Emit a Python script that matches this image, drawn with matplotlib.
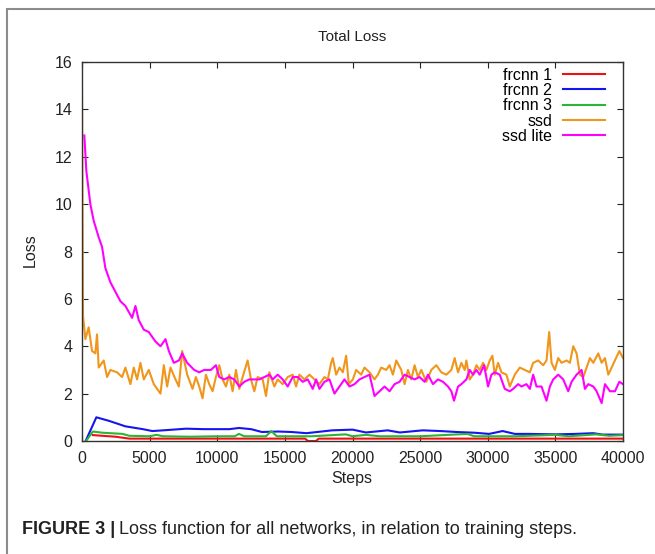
import matplotlib
matplotlib.use("Agg")
import matplotlib.pyplot as plt
from matplotlib.patches import Rectangle
from matplotlib import font_manager

# --- data ------------------------------------------------------------------
frcnn1_steps = [800, 1500, 2500, 3500, 10000, 16500, 16700, 17300, 17500, 40000]
frcnn1_loss = [0.25, 0.22, 0.18, 0.10, 0.10, 0.10, 0.0, 0.0, 0.10, 0.10]

frcnn2_steps = [270, 1060, 2000, 3200, 4500, 5200, 6000, 7700, 9000, 10900, 11600,
                12500, 13300, 14500, 15500, 16600, 18500, 20000, 21000, 22600, 23500,
                25200, 26500, 27700, 29000, 30100, 31100, 32000, 33000, 35000, 36500,
                37800, 38500, 40000]
frcnn2_loss = [0.0, 1.0, 0.85, 0.62, 0.5, 0.42, 0.45, 0.52, 0.5, 0.5, 0.55,
               0.5, 0.38, 0.4, 0.38, 0.33, 0.45, 0.48, 0.36, 0.45, 0.36,
               0.45, 0.42, 0.38, 0.35, 0.3, 0.42, 0.3, 0.3, 0.28, 0.3,
               0.33, 0.27, 0.27]

frcnn3_steps = [300, 800, 1500, 3000, 3500, 5000, 5500, 6000, 8000, 10000, 11300,
                11600, 12000, 13600, 14000, 14400, 17000, 19500, 20000, 21000, 22000,
                25000, 28500, 29000, 32000, 35000, 36000, 38000, 39000, 40000]
frcnn3_loss = [0.0, 0.4, 0.35, 0.3, 0.22, 0.2, 0.26, 0.2, 0.18, 0.2, 0.2,
               0.3, 0.2, 0.2, 0.42, 0.2, 0.2, 0.28, 0.2, 0.26, 0.2,
               0.2, 0.3, 0.2, 0.2, 0.26, 0.2, 0.28, 0.22, 0.25]

ssd_steps = [0, 74, 247, 494, 741, 988, 1111, 1235, 1605, 1852, 2099, 2593, 2963,
             3210, 3580, 3827, 4074, 4321, 4568, 4938, 5309, 5802, 6049, 6296, 6543,
             6914, 7160, 7407, 7778, 8173, 8420, 8667, 8914, 9160, 9407, 9654, 9901,
             10148, 10395, 10642, 10889, 11136, 11382, 11629, 11876, 12247, 12493,
             12740, 12987, 13358, 13605, 13852, 14222, 14469, 14840, 15210, 15580,
             15827, 16074, 16444, 16815, 17185, 17555, 17926, 18173, 18420, 18543,
             18790, 19037, 19284, 19531, 19728, 20024, 20271, 20641, 20888, 21259,
             21629, 21876, 22123, 22493, 22740, 22987, 23234, 23605, 23852, 24099,
             24345, 24592, 24839, 25086, 25457, 25827, 26197, 26568, 26938, 27308,
             27555, 27802, 28049, 28296, 28419, 28666, 28913, 29160, 29407, 29654,
             29901, 30148, 30345, 30518, 30765, 31012, 31383, 31630, 32000, 32370,
             32741, 33111, 33358, 33728, 34099, 34345, 34543, 34716, 34963, 35210,
             35457, 35827, 36074, 36321, 36568, 36815, 37062, 37308, 37555, 37802,
             38173, 38420, 38667, 38913, 39160, 39407, 39728, 40000]
ssd_loss = [14.7, 5.3, 4.3, 4.8, 3.8, 3.7, 4.5, 3.1, 3.4, 2.7, 3.0, 2.9, 2.7,
            3.1, 2.4, 3.1, 2.6, 3.3, 2.6, 3.0, 2.4, 2.0, 3.2, 2.3, 3.1,
            2.6, 2.3, 3.8, 2.8, 2.2, 2.7, 2.3, 1.8, 2.8, 2.4, 2.1, 2.7,
            3.2, 2.6, 2.3, 2.8, 2.1, 3.0, 2.2, 2.7, 3.4, 2.6,
            2.1, 2.7, 2.6, 1.9, 2.9, 2.3, 2.6, 2.4, 2.7, 2.8,
            2.3, 2.8, 2.6, 2.8, 2.6, 2.4, 2.7, 2.6, 3.3, 3.5,
            2.8, 3.1, 2.9, 3.6, 2.4, 2.6, 3.0, 2.8, 3.1, 2.9,
            2.6, 2.8, 3.1, 3.0, 3.2, 2.8, 3.4, 3.0, 2.4, 3.0,
            2.6, 3.2, 2.7, 3.0, 2.5, 3.0, 3.2, 2.9, 2.8, 3.0,
            3.5, 2.9, 3.3, 3.0, 3.4, 2.6, 2.8, 3.2, 3.0, 3.3,
            3.0, 3.4, 3.6, 2.8, 3.3, 2.9, 2.8, 2.3, 2.8, 3.1,
            3.0, 2.9, 3.3, 3.4, 3.2, 3.4, 4.6, 3.3, 3.0, 3.5,
            3.3, 3.4, 3.3, 4.0, 3.7, 2.8, 2.7, 3.1, 3.5, 3.3,
            3.7, 3.3, 3.5, 2.8, 3.1, 3.4, 3.8, 3.5]

ssdlite_steps = [173, 321, 617, 864, 1234, 1481, 1728, 2099, 2469, 2840, 3210, 3704,
                 3951, 4197, 4568, 4938, 5432, 5802, 6173, 6420, 6790, 7160, 7407,
                 7778, 8296, 8666, 9037, 9530, 9901, 10148, 10518, 10888, 11259,
                 11629, 12000, 12370, 12740, 13110, 13481, 13851, 14098, 14468, 14839,
                 15209, 15580, 15950, 16321, 16691, 17061, 17308, 17555, 17926, 18296,
                 18666, 19037, 19407, 19777, 20148, 20518, 20888, 21259, 21629, 22000,
                 22370, 22740, 23111, 23481, 23852, 24222, 24592, 24963, 25333, 25580,
                 25950, 26320, 26691, 27061, 27308, 27506, 27802, 28049, 28419, 28666,
                 28913, 29160, 29407, 29728, 30024, 30271, 30518, 30888, 31259, 31630,
                 31877, 32247, 32494, 32864, 33111, 33358, 33605, 33975, 34345, 34593,
                 34839, 35210, 35580, 35950, 36197, 36568, 36938, 37185, 37432, 37802,
                 38049, 38420, 38667, 39037, 39407, 39728, 40000]
ssdlite_loss = [12.9, 11.4, 10.0, 9.3, 8.6, 8.2, 7.3, 6.7, 6.3, 5.9, 5.7, 5.2,
                5.7, 5.1, 4.7, 4.6, 4.2, 4.0, 4.3, 3.8, 3.3, 3.4, 3.7,
                3.3, 3.0, 2.9, 3.0, 3.0, 3.2, 2.7, 2.6, 2.7, 2.6,
                2.3, 2.5, 2.6, 2.6, 2.6, 2.7, 2.8, 2.6, 2.8, 2.6,
                2.3, 2.7, 2.7, 2.5, 2.6, 2.2, 2.6, 2.2, 2.5, 2.6,
                2.0, 2.3, 2.6, 2.3, 2.4, 2.6, 2.7, 2.8, 1.9, 2.1,
                2.3, 2.1, 2.4, 2.5, 2.8, 2.7, 2.6, 2.7, 2.5, 2.8,
                2.4, 2.6, 2.5, 2.3, 2.1, 1.7, 2.3, 2.4, 2.6, 3.0,
                2.8, 3.0, 2.8, 3.2, 2.3, 2.8, 2.9, 2.8, 2.2, 2.1,
                2.2, 2.4, 2.3, 2.4, 2.2, 2.8, 2.3, 2.3, 1.7, 2.3,
                2.6, 2.8, 2.6, 2.1, 2.5, 2.8, 3.0, 2.2, 2.4, 2.3,
                2.1, 1.6, 2.4, 2.1, 2.1, 2.5, 2.4]

series = [
    ("frcnn 1", frcnn1_steps, frcnn1_loss, "#ee1111"),
    ("frcnn 2", frcnn2_steps, frcnn2_loss, "#1515ee"),
    ("frcnn 3", frcnn3_steps, frcnn3_loss, "#2bb537"),
    ("ssd", ssd_steps, ssd_loss, "#f0961c"),
    ("ssd lite", ssdlite_steps, ssdlite_loss, "#ff00ff"),
]
x_ticks = [0, 5000, 10000, 15000, 20000, 25000, 30000, 35000, 40000]
y_ticks = [0, 2, 4, 6, 8, 10, 12, 14, 16]

# --- figure -----------------------------------------------------------------
names = {f.name for f in font_manager.fontManager.ttflist}
base_font = "Liberation Sans" if "Liberation Sans" in names else "DejaVu Sans"
cap_font = "Liberation Sans Narrow" if "Liberation Sans Narrow" in names else base_font
plt.rcParams["font.family"] = [base_font, "DejaVu Sans"]

W, H = 655, 554
fig = plt.figure(figsize=(W / 100, H / 100), dpi=100)
ax = fig.add_axes([82 / W, 1 - 441 / H, (623 - 82) / W, (441 - 62) / H])

for name, xs, ys, col in series:
    ax.plot(xs, ys, color=col, lw=1.5, label=name)

ax.set_xlim(0, 40000)
ax.set_ylim(0, 16)
ax.set_xticks(x_ticks)
ax.set_yticks(y_ticks)
ax.tick_params(direction="in", length=4, width=0.8, top=True, right=True,
               labelsize=11.5, colors="#222222", pad=7)
for sp in ax.spines.values():
    sp.set_color("#333333")
    sp.set_linewidth(1.0)

leg = ax.legend(loc="upper right", bbox_to_anchor=((605 - 82) / 541, 0.985),
                frameon=False, markerfirst=False, fontsize=11.5, handlelength=2.6,
                handletextpad=0.7, labelspacing=0.02, borderpad=0, borderaxespad=0)

fig.text(352 / W, 1 - 37 / H, "Total Loss", ha="center", va="center",
         fontsize=11, color="#222222")
fig.text(352 / W, 1 - 478 / H, "Steps", ha="center", va="center",
         fontsize=11.5, color="#222222")
fig.text(30 / W, 1 - 250 / H, "Loss", ha="center", va="center", rotation=90,
         fontsize=11.5, color="#222222")

# outer frame, clipped at right and bottom like the reference
fig.patches.append(Rectangle((7 / W, -0.05), 1.0, 1 - 9 / H + 0.05,
                             transform=fig.transFigure, fill=False,
                             edgecolor="#8c8c8c", lw=1.5))

# caption: bold prefix then regular text
bold = fig.text(22 / W, 1 - 530 / H, "FIGURE 3 |", ha="left", va="center",
                fontsize=13, fontweight="bold", family=cap_font, color="#222222")
fig.canvas.draw()
bb = bold.get_window_extent(renderer=fig.canvas.get_renderer())
fig.text((bb.x1 + 4) / W, 1 - 530 / H,
         "Loss function for all networks, in relation to training steps.",
         ha="left", va="center", fontsize=13, family=cap_font, color="#222222")

fig.savefig("out.png", dpi=100)
